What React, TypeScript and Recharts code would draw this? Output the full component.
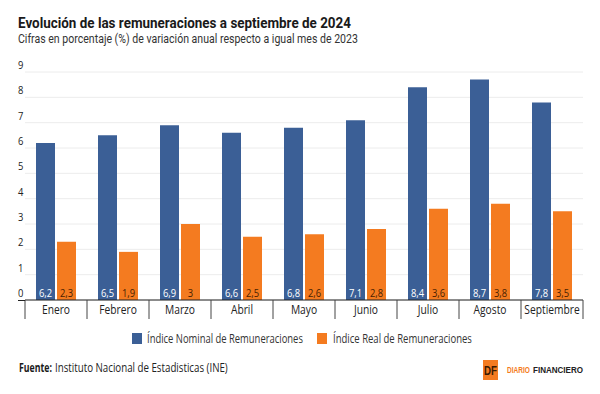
import { useLayoutEffect, useRef, useState } from "react";
import { Bar, BarChart, CartesianGrid, LabelList, XAxis, YAxis } from "recharts";

const MONTHS = ["Enero", "Febrero", "Marzo", "Abril", "Mayo", "Junio", "Julio", "Agosto", "Septiembre"];
const NOMINAL = [6.2, 6.5, 6.9, 6.6, 6.8, 7.1, 8.4, 8.7, 7.8];
const REAL = [2.3, 1.9, 3, 2.5, 2.6, 2.8, 3.6, 3.8, 3.5];
const Y_TICKS = [0, 1, 2, 3, 4, 5, 6, 7, 8, 9];

const NOMINAL_NAME = "Índice Nominal de Remuneraciones";
const REAL_NAME = "Índice Real de Remuneraciones";

const BLUE = "#3b5f96";
const ORANGE = "#f47b20";
const FONT = "'Open Sans', 'DejaVu Sans', sans-serif";
const HEAD_FONT = "Roboto, 'Open Sans', sans-serif";
const LOGO_FONT = "'Liberation Sans', Arial, sans-serif";

const W = 600;
const H = 394;
const PLOT_BOTTOM = 300;
const BAND_HALF = 31;

const data = MONTHS.map((month, i) => ({ month, nominal: NOMINAL[i], real: REAL[i] }));

const fmt = (v: number) => String(v).replace(".", ",");

// narrow text: open sans squeezed horizontally to look like a condensed face
const CondText = ({
  x,
  y,
  children,
  size = 12,
  fill = "#222",
  anchor = "start",
  weight = 400,
  sx = 0.82,
}: {
  x: number;
  y: number;
  children: string;
  size?: number;
  fill?: string;
  anchor?: "start" | "middle" | "end";
  weight?: number;
  sx?: number;
}) => (
  <text
    transform={`translate(${x},${y}) scale(${sx},1)`}
    fontFamily={FONT}
    fontSize={size}
    fontWeight={weight}
    fill={fill}
    textAnchor={anchor}
  >
    {children}
  </text>
);

// text squeezed so that it spans exactly `width` px
const FitText = ({
  x,
  y,
  width,
  children,
  size = 12,
  fill = "#222",
  weight = 400,
  family = FONT,
  anchor = "start",
}: {
  x: number;
  y: number;
  width: number;
  children: string;
  size?: number;
  fill?: string;
  weight?: number;
  family?: string;
  anchor?: "start" | "middle" | "end";
}) => {
  const ref = useRef<SVGTextElement>(null);
  const [sx, setSx] = useState(1);
  useLayoutEffect(() => {
    const el = ref.current;
    if (!el) return;
    const natural = el.getComputedTextLength();
    if (natural > 0) setSx(width / natural);
  }, [width, children, size, family, weight]);
  return (
    <text
      ref={ref}
      transform={`translate(${x},${y}) scale(${sx},1)`}
      fontFamily={family}
      fontSize={size}
      fontWeight={weight}
      fill={fill}
      textAnchor={anchor}
    >
      {children}
    </text>
  );
};

const YTick = (props: any) => {
  const { y, payload } = props;
  return (
    <CondText x={18} y={y - 3} size={11.5}>
      {String(payload.value)}
    </CondText>
  );
};

const XTick = (props: any) => {
  const { x, payload, index } = props;
  const last = index === MONTHS.length - 1;
  return (
    <g>
      <line x1={x - BAND_HALF} x2={x - BAND_HALF} y1={PLOT_BOTTOM} y2={PLOT_BOTTOM + 19} stroke="#444" strokeWidth={1} />
      {last && (
        <line x1={x + BAND_HALF} x2={x + BAND_HALF} y1={PLOT_BOTTOM} y2={PLOT_BOTTOM + 19} stroke="#444" strokeWidth={1} />
      )}
      <CondText x={x} y={PLOT_BOTTOM + 13.5} size={12.5} anchor="middle">
        {payload.value}
      </CondText>
    </g>
  );
};

const makeBarLabel = (fill: string) => (props: any) => {
  const { x, y, width, height, value } = props;
  return (
    <CondText x={x + width / 2} y={y + height - 3.5} size={11.5} fill={fill} anchor="middle">
      {fmt(value)}
    </CondText>
  );
};

export default function App() {
  return (
    <div style={{ position: "absolute", left: 0, top: 0, width: W, height: H, background: "#fff" }}>
      <BarChart
        width={W}
        height={H}
        data={data}
        margin={{ top: 72, right: 17, left: 24, bottom: 61 }}
        barGap={2}
        barCategoryGap={0}
      >
        <CartesianGrid vertical={false} stroke="#ececec" />
        <YAxis
          width={1}
          domain={[0, 9]}
          ticks={Y_TICKS}
          axisLine={false}
          tickLine={false}
          tick={YTick}
          interval={0}
          type="number"
        />
        <XAxis
          dataKey="month"
          height={33}
          axisLine={{ stroke: "#222", strokeWidth: 1 }}
          tickLine={false}
          tick={XTick}
          interval={0}
        />
        <Bar dataKey="nominal" name={NOMINAL_NAME} fill={BLUE} barSize={19} isAnimationActive={false}>
          <LabelList dataKey="nominal" content={makeBarLabel("#ffffff")} />
        </Bar>
        <Bar dataKey="real" name={REAL_NAME} fill={ORANGE} barSize={19} isAnimationActive={false}>
          <LabelList dataKey="real" content={makeBarLabel("#4a1f00")} />
        </Bar>
      </BarChart>

      <svg width={W} height={H} style={{ position: "absolute", left: 0, top: 0, pointerEvents: "none" }}>
        <FitText x={18} y={27.5} width={333} family={HEAD_FONT} size={15.5} weight={700} fill="#1a1a1a">
          Evolución de las remuneraciones a septiembre de 2024
        </FitText>
        <FitText x={18} y={42.5} width={340} family={HEAD_FONT} size={12} fill="#333">
          Cifras en porcentaje (%) de variación anual respecto a igual mes de 2023
        </FitText>

        {/* axis line runs a little past the first divider */}
        <line x1={18} x2={25} y1={PLOT_BOTTOM + 0.5} y2={PLOT_BOTTOM + 0.5} stroke="#222" />

        <rect x={132} y={333} width={10} height={11} fill={BLUE} />
        <FitText x={147} y={342.5} width={156} size={12.5} fill="#333">
          {NOMINAL_NAME}
        </FitText>
        <rect x={317} y={333} width={10} height={11} fill={ORANGE} />
        <FitText x={333} y={342.5} width={139} size={12.5} fill="#333">
          {REAL_NAME}
        </FitText>

        <FitText x={19} y={372} width={33} size={12.5} weight={700} fill="#1a1a1a">
          Fuente:
        </FitText>
        <FitText x={55} y={372} width={173} size={12.5} fill="#222">
          Instituto Nacional de Estadisticas (INE)
        </FitText>

        <rect x={483} y={360} width={15} height={20} fill={ORANGE} />
        <FitText x={490.5} y={375} width={13} family={LOGO_FONT} size={13} weight={700} fill="#3a1a00" anchor="middle">
          DF
        </FitText>
        <FitText x={507} y={373} width={23} family={LOGO_FONT} size={8.5} weight={700} fill={ORANGE}>
          DIARIO
        </FitText>
        <FitText x={533} y={373} width={50} family={LOGO_FONT} size={8.5} weight={700} fill="#222">
          FINANCIERO
        </FitText>
      </svg>
    </div>
  );
}
